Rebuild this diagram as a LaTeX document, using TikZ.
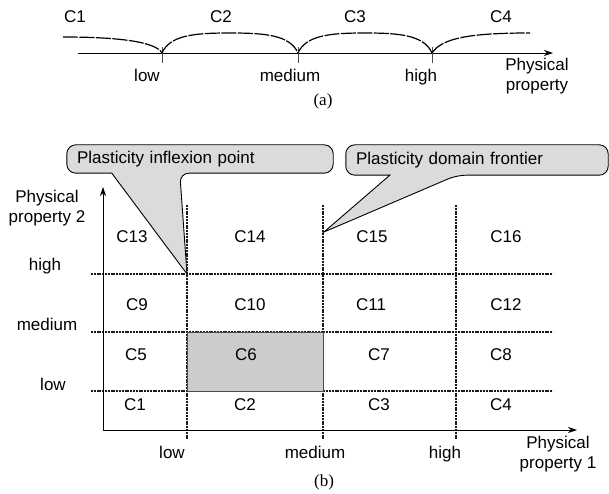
\documentclass[tikz,border=0pt]{standalone}
\usepackage{fontspec}
\setmainfont{Liberation Sans}
\newfontfamily\figfont{Liberation Serif}
\usetikzlibrary{arrows.meta,calc,backgrounds}

\begin{document}
\begin{tikzpicture}[x=1pt,y=-1pt,font=\fontsize{17}{20}\selectfont,
	lbl/.style={inner sep=0pt,anchor=base},
	two/.style={inner sep=0pt,align=center},
	tag/.style={inner sep=0pt,font=\figfont\fontsize{17}{20}\selectfont},
	arrowaxis/.style={line width=0.9pt,-{Stealth[length=9pt,width=6pt]}},
	tickmark/.style={line width=0.7pt,gray!60!black},
	member/.style={line width=1.2pt,dash pattern=on 15pt off 1.5pt},
	cutline/.style={line width=1.1pt,gray!20!black,dash pattern=on 2pt off 0.8pt},
	callbox/.style={inner xsep=10pt,inner ysep=0pt,align=left,minimum height=#1},
	callout/.style={fill=gray!28,draw=black,line width=0.9pt}]
\useasboundingbox (0,0) rectangle (609,494);

% (a)
\coordinate (a-in) at (78,53);
\coordinate (a-out) at (553,53);
\draw[arrowaxis] (a-in) -- (a-out);
\foreach \n/\x in {low/162,medium/298,high/432}{
	\coordinate (a-\n) at (\x,53);
	\draw[tickmark] (\x,47) -- (\x,63);
}
\draw[member] (63,37) .. controls (120,37) and (156,42) .. (a-low);
\draw[member] (a-low) .. controls (170,35) and (195,33) .. (230,33)
	.. controls (265,33) and (290,35) .. (a-medium);
\draw[member] (a-medium) .. controls (306,35) and (331,33) .. (365,33)
	.. controls (399,33) and (424,35) .. (a-high);
\draw[member] (a-high) .. controls (442,38) and (470,33) .. (530,33);
\foreach \t/\x in {C1/75,C2/221,C3/355,C4/501}
	\node[lbl] (a-\t) at (\x,23) {\t};
\foreach \n/\x in {low/147,medium/290,high/421}
	\node[lbl] (a-\n-txt) at (\x,82) {\n};
\node[two] (a-prop) at (537,76) {Physical\\property};
\node[tag] (a-tag) at (323,101) {(a)};

% (b)
\coordinate (org) at (103,430);
\coordinate (ytip) at (103,187);
\coordinate (xtip) at (577,430);
\coordinate (inflpt) at (187,274);
\coordinate (frontpt) at (324,232);
\foreach \y in {274,332,391}
	\draw[cutline] (91,\y) -- (553,\y);
\foreach \x in {187,323,456}
	\draw[cutline] (\x,205) -- (\x,440);
\draw[fill=gray!40,draw=gray!60!black,line width=0.9pt] (187,332) rectangle (323,391);
\draw[arrowaxis] (org) -- (ytip);
\draw[arrowaxis] (org) -- (xtip);

\foreach \t/\x/\y in {C1/135/410,C2/245/410,C3/379/410,C4/501/410,
	C5/136/360,C6/246/360,C7/379/360,C8/501/360,
	C9/137/310,C10/250/310,C11/371/310,C12/506/310,
	C13/132/242,C14/250/242,C15/372/242,C16/506/242}
	\node[lbl] (b-\t) at (\x,\y) {\t};
\node[lbl] (b-high) at (45,270) {high};
\node[lbl] (b-medium) at (47,330) {medium};
\node[lbl] (b-low) at (53,390) {low};
\node[lbl] (b-low-x) at (172,458) {low};
\node[lbl] (b-medium-x) at (315,458) {medium};
\node[lbl] (b-high-x) at (445,458) {high};
\node[two] (b-prop2) at (47,208) {Physical\\property 2};
\node[two] (b-prop1) at (558,454) {Physical\\property 1};
\node[tag] (b-tag) at (324,482) {(b)};

\node (infl) [callbox=28, text width=246] at (200,159) {Plasticity inflexion point};
\node (front) [callbox=30, text width=242] at (477,160) {Plasticity domain frontier};
\begin{scope}[on background layer]
\draw[callout] ($(infl.south west)+(45,0)$) [rounded corners=9pt] -- (infl.south west)
	-- (infl.north west) -- (infl.north east) -- (infl.south east)
	-- ($(infl.south west)+(113,0)$) [sharp corners] -- (inflpt) -- cycle;
\draw[callout] ($(front.south west)+(44,0)$) [rounded corners=9pt] -- (front.south west)
	-- (front.north west) -- (front.north east) -- (front.south east)
	-- ($(front.south west)+(111,0)$) [sharp corners] -- (frontpt) -- cycle;
\end{scope}
\end{tikzpicture}
\end{document}
